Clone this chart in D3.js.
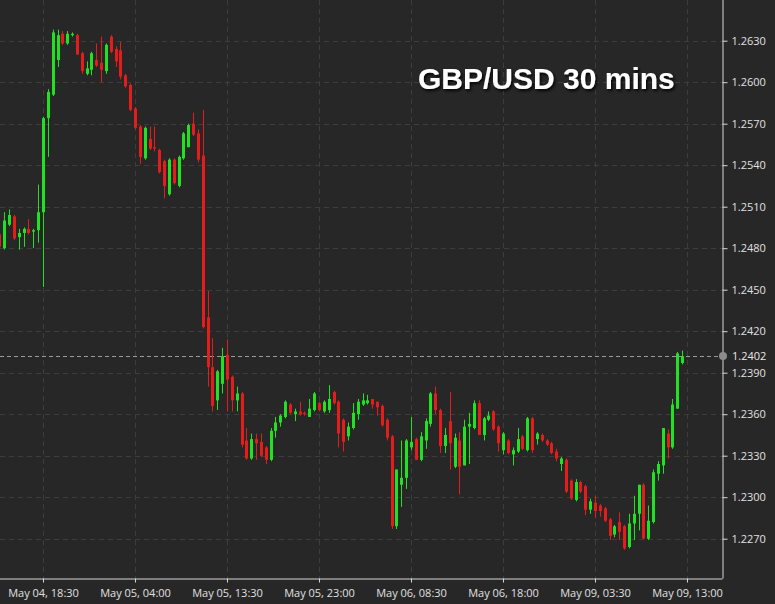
<!DOCTYPE html>
<html><head><meta charset="utf-8">
<script src="https://cdn.jsdelivr.net/npm/d3@7"></script>
<style>
html,body{margin:0;padding:0;background:#272727;}
svg{display:block;}
</style></head>
<body>
<svg id="chart" width="775" height="604"></svg>
<script>
const opens = [1.2490,1.2480,1.2497,1.2503,1.2488,1.2491,1.2494,1.2492,1.2493,1.2506,
 1.2574,1.2591,1.2616,1.2635,1.2628,1.2634,1.2634,1.2621,1.2606,1.2609,
 1.2616,1.2614,1.2608,1.2633,1.2624,1.2623,1.2605,1.2598,1.2581,1.2568,
 1.2545,1.2559,1.2553,1.2551,1.2543,1.2519,1.2544,1.2525,1.2545,1.2553,
 1.2570,1.2563,1.2547,1.2430,1.2394,1.2370,1.2382,1.2403,1.2387,1.2370,
 1.2375,1.2341,1.2328,1.2342,1.2340,1.2336,1.2327,1.2348,1.2354,1.2358,
 1.2367,1.2360,1.2362,1.2361,1.2358,1.2363,1.2368,1.2362,1.2363,1.2376,
 1.2369,1.2356,1.2344,1.2350,1.2360,1.2367,1.2368,1.2371,1.2369,1.2366,
 1.2356,1.2344,1.2279,1.2309,1.2314,1.2336,1.2342,1.2327,1.2341,1.2353,
 1.2375,1.2363,1.2337,1.2355,1.2322,1.2341,1.2323,1.2351,1.2350,1.2368,
 1.2345,1.2356,1.2362,1.2351,1.2334,1.2341,1.2331,1.2333,1.2344,1.2334,
 1.2357,1.2342,1.2345,1.2341,1.2339,1.2333,1.2324,1.2327,1.2312,1.2298,
 1.2311,1.2308,1.2291,1.2296,1.2294,1.2292,1.2284,1.2273,1.2282,1.2279,
 1.2264,1.2281,1.2288,1.2309,1.2270,1.2282,1.2317,1.2323,1.2346,1.2336,
 1.2364,1.2397];
const highs = [1.2492,1.2506,1.2508,1.2504,1.2494,1.2495,1.2501,1.2494,1.2526,1.2575,
 1.2595,1.2638,1.2638,1.2637,1.2637,1.2636,1.2635,1.2622,1.2615,1.2622,
 1.2628,1.2633,1.2628,1.2634,1.2626,1.2629,1.2606,1.2599,1.2582,1.2569,
 1.2568,1.2568,1.2568,1.2552,1.2544,1.2545,1.2545,1.2547,1.2564,1.2570,
 1.2578,1.2566,1.2580,1.2449,1.2415,1.2392,1.2408,1.2414,1.2388,1.2380,
 1.2376,1.2350,1.2346,1.2346,1.2346,1.2337,1.2350,1.2358,1.2360,1.2370,
 1.2368,1.2364,1.2369,1.2362,1.2371,1.2376,1.2369,1.2370,1.2381,1.2377,
 1.2370,1.2357,1.2354,1.2368,1.2371,1.2375,1.2374,1.2371,1.2369,1.2367,
 1.2357,1.2345,1.2320,1.2341,1.2342,1.2358,1.2343,1.2347,1.2357,1.2376,
 1.2380,1.2364,1.2350,1.2376,1.2346,1.2347,1.2356,1.2361,1.2370,1.2370,
 1.2358,1.2362,1.2363,1.2352,1.2347,1.2342,1.2336,1.2350,1.2345,1.2358,
 1.2358,1.2347,1.2346,1.2342,1.2340,1.2335,1.2329,1.2328,1.2313,1.2313,
 1.2312,1.2309,1.2299,1.2301,1.2295,1.2293,1.2285,1.2280,1.2289,1.2280,
 1.2288,1.2301,1.2309,1.2310,1.2294,1.2320,1.2326,1.2350,1.2349,1.2371,
 1.2405,1.2406];
const lows = [1.2479,1.2479,1.2496,1.2486,1.2479,1.2481,1.2490,1.2480,1.2484,1.2452,
 1.2546,1.2590,1.2611,1.2627,1.2627,1.2633,1.2620,1.2606,1.2605,1.2605,
 1.2611,1.2600,1.2606,1.2621,1.2611,1.2602,1.2596,1.2579,1.2566,1.2541,
 1.2544,1.2551,1.2550,1.2534,1.2516,1.2518,1.2526,1.2524,1.2544,1.2553,
 1.2561,1.2542,1.2422,1.2380,1.2362,1.2363,1.2375,1.2362,1.2362,1.2362,
 1.2336,1.2327,1.2327,1.2327,1.2329,1.2324,1.2326,1.2343,1.2351,1.2357,
 1.2360,1.2355,1.2359,1.2359,1.2358,1.2362,1.2362,1.2361,1.2361,1.2367,
 1.2336,1.2333,1.2341,1.2349,1.2356,1.2366,1.2367,1.2364,1.2359,1.2351,
 1.2341,1.2277,1.2277,1.2293,1.2306,1.2334,1.2327,1.2326,1.2335,1.2351,
 1.2360,1.2332,1.2332,1.2320,1.2321,1.2302,1.2323,1.2324,1.2349,1.2345,
 1.2341,1.2355,1.2348,1.2333,1.2331,1.2331,1.2323,1.2332,1.2334,1.2333,
 1.2332,1.2338,1.2340,1.2337,1.2331,1.2326,1.2319,1.2303,1.2298,1.2297,
 1.2303,1.2287,1.2288,1.2285,1.2286,1.2282,1.2269,1.2271,1.2269,1.2262,
 1.2263,1.2269,1.2276,1.2270,1.2269,1.2281,1.2312,1.2317,1.2328,1.2335,
 1.2364,1.2396];
const closes = [1.2481,1.2500,1.2504,1.2487,1.2491,1.2494,1.2491,1.2493,1.2506,1.2574,
 1.2593,1.2636,1.2634,1.2628,1.2635,1.2635,1.2620,1.2608,1.2610,1.2621,
 1.2612,1.2609,1.2627,1.2622,1.2615,1.2604,1.2597,1.2580,1.2567,1.2546,
 1.2567,1.2552,1.2552,1.2535,1.2525,1.2544,1.2527,1.2546,1.2563,1.2569,
 1.2562,1.2544,1.2423,1.2394,1.2366,1.2391,1.2402,1.2385,1.2370,1.2375,
 1.2338,1.2328,1.2342,1.2339,1.2330,1.2327,1.2348,1.2354,1.2359,1.2369,
 1.2361,1.2362,1.2360,1.2360,1.2364,1.2375,1.2363,1.2369,1.2371,1.2368,
 1.2346,1.2340,1.2351,1.2361,1.2369,1.2370,1.2370,1.2367,1.2365,1.2352,
 1.2343,1.2279,1.2320,1.2314,1.2341,1.2340,1.2327,1.2344,1.2355,1.2375,
 1.2363,1.2337,1.2345,1.2339,1.2343,1.2322,1.2351,1.2353,1.2368,1.2345,
 1.2357,1.2359,1.2349,1.2339,1.2346,1.2332,1.2334,1.2342,1.2335,1.2357,
 1.2334,1.2346,1.2341,1.2338,1.2332,1.2328,1.2328,1.2304,1.2299,1.2311,
 1.2304,1.2291,1.2297,1.2290,1.2290,1.2283,1.2272,1.2279,1.2275,1.2263,
 1.2281,1.2288,1.2309,1.2270,1.2283,1.2318,1.2324,1.2350,1.2336,1.2367,
 1.2404,1.2402];

// x-axis: candle index of each labelled time, and its label
const tickIndex = [9, 28, 47, 66, 85, 104, 123, 142];
const tickLabels = ["May 04, 18:30","May 05, 04:00","May 05, 13:30","May 05, 23:00",
                    "May 06, 08:30","May 06, 18:00","May 09, 03:30","May 09, 13:00"];
const yTicks = [1.2270,1.2300,1.2330,1.2360,1.2390,1.2420,1.2450,1.2480,1.2510,1.2540,1.2570,1.2600,1.2630];
const lastPrice = 1.2402;
const title = "GBP/USD 30 mins";

const W = 775, H = 604;
const plotR = 722.5, plotB = 578.5;
const svg = d3.select("#chart");
const GREEN = "#22e022", RED = "#e41c1c";

const x = d3.scaleLinear().domain([9, 142]).range([43, 687]);
const y = d3.scaleLinear().domain([1.2270, 1.2630]).range([538.7, 40.7]);

const defs = svg.append("defs");
defs.append("clipPath").attr("id","plot").append("rect")
  .attr("x",0).attr("y",0).attr("width",plotR).attr("height",plotB);
const f = defs.append("filter").attr("id","shadow").attr("x","-10%").attr("y","-30%").attr("width","130%").attr("height","180%");
f.append("feDropShadow").attr("dx",1.5).attr("dy",2).attr("stdDeviation",1.5)
  .attr("flood-color","#000").attr("flood-opacity",0.9);

svg.append("rect").attr("width",W).attr("height",H).attr("fill","#272727");

// grid
const grid = svg.append("g").attr("clip-path","url(#plot)");
grid.selectAll("line.h").data(yTicks).join("line")
  .attr("x1",0).attr("x2",plotR)
  .attr("y1",d=>Math.round(y(d))+0.5).attr("y2",d=>Math.round(y(d))+0.5)
  .attr("stroke","#3d3d3d").attr("stroke-dasharray","5,4");
grid.selectAll("line.v").data(tickIndex).join("line")
  .attr("y1",0).attr("y2",plotB)
  .attr("x1",d=>Math.round(x(d))+0.5).attr("x2",d=>Math.round(x(d))+0.5)
  .attr("stroke","#3d3d3d").attr("stroke-dasharray","5,4");

// last price line
svg.append("line").attr("x1",0).attr("x2",plotR)
  .attr("y1",Math.round(y(lastPrice))+0.5).attr("y2",Math.round(y(lastPrice))+0.5)
  .attr("stroke","#9a9a9a").attr("stroke-dasharray","4,3");

// candles
const data = opens.map((o,i)=>({i,o,h:highs[i],l:lows[i],c:closes[i]}));
const cg = svg.append("g").attr("clip-path","url(#plot)");
const cand = cg.selectAll("g").data(data).join("g");
cand.append("line")
  .attr("x1",d=>Math.round(x(d.i))+0.5).attr("x2",d=>Math.round(x(d.i))+0.5)
  .attr("y1",d=>y(d.h)).attr("y2",d=>y(d.l))
  .attr("stroke",d=>d.c>=d.o?GREEN:RED).attr("stroke-width",1);
cand.append("rect")
  .attr("x",d=>Math.round(x(d.i))-1)
  .attr("width",3)
  .attr("y",d=>y(Math.max(d.o,d.c)))
  .attr("height",d=>Math.max(1.2, Math.abs(y(d.o)-y(d.c))))
  .attr("fill",d=>d.c>=d.o?GREEN:RED);

// axes
const axisColor = "#d8d8d8";
const xAxis = d3.axisBottom(x).tickValues(tickIndex).tickFormat((d,i)=>tickLabels[i]).tickSize(4).tickSizeOuter(0);
const gx = svg.append("g").attr("transform",`translate(0,${plotB})`).call(xAxis);
gx.select(".domain").attr("d",`M0,0.5H${plotR}`).attr("stroke",axisColor);
gx.selectAll(".tick line").attr("stroke",axisColor);
gx.selectAll(".tick text").attr("fill","#e0e0e0").attr("font-family","'Open Sans', sans-serif")
  .attr("font-size",11).attr("dy","1.05em");

const yAxis = d3.axisRight(y).tickValues(yTicks).tickFormat(d3.format(".4f")).tickSize(5).tickSizeOuter(0);
const gy = svg.append("g").attr("transform",`translate(${plotR},0)`).call(yAxis);
gy.select(".domain").attr("d",`M0.5,0V${plotB}`).attr("stroke",axisColor);
gy.selectAll(".tick line").attr("stroke",axisColor);
gy.selectAll(".tick text").attr("fill","#e0e0e0").attr("font-family","'Open Sans', sans-serif")
  .attr("font-size",11).attr("x",9);

// last price marker
svg.append("circle").attr("cx",plotR+0.5).attr("cy",y(lastPrice)).attr("r",4).attr("fill","#8c8c8c");
svg.append("text").attr("x",plotR+9.5).attr("y",y(lastPrice)).attr("dy","0.32em")
  .attr("fill","#e8e8e8").attr("font-family","'Open Sans', sans-serif").attr("font-size",11)
  .text(d3.format(".4f")(lastPrice));

// title
svg.append("text").attr("x",418).attr("y",89)
  .attr("font-family","'Liberation Sans', Arial, sans-serif").attr("font-weight","bold")
  .attr("font-size",30).attr("fill","#ffffff").attr("filter","url(#shadow)")
  .text(title);
</script>
</body></html>
